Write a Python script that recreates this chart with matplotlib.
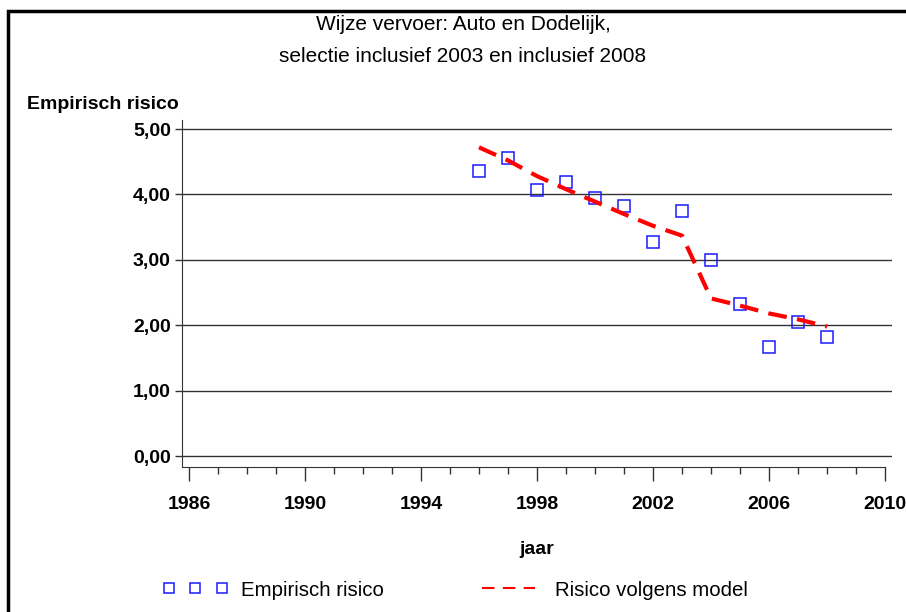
import matplotlib
matplotlib.use("Agg")
import matplotlib.pyplot as plt
from matplotlib.patches import Rectangle
from matplotlib.ticker import FuncFormatter, MultipleLocator

plt.rcParams['font.family'] = ['Liberation Sans', 'DejaVu Sans']

years = [1996, 1997, 1998, 1999, 2000, 2001, 2002, 2003, 2004, 2005, 2006, 2007, 2008]
empirisch = [4.36, 4.56, 4.06, 4.19, 3.95, 3.82, 3.28, 3.75, 3.00, 2.32, 1.66, 2.05, 1.82]
model = [4.72, 4.52, 4.28, 4.08, 3.89, 3.70, 3.52, 3.37, 2.41, 2.30, 2.18, 2.09, 1.98]
yticks = [0, 1, 2, 3, 4, 5]
xticks = [1986, 1990, 1994, 1998, 2002, 2006, 2010]

fig = plt.figure(figsize=(9.06, 6.12), dpi=100)
ax = fig.add_axes([182 / 906, 1 - 467 / 612, 710 / 906, 347 / 612])

# frame around the whole picture
fig.patches.append(Rectangle((8 / 906, -0.1), 1.2, 1 - 11 / 612 + 0.1,
                             transform=fig.transFigure, fill=False,
                             edgecolor="black", linewidth=2.5))

ax.plot(years, empirisch, linestyle="none", marker="s", markersize=8,
        markerfacecolor="none", markeredgecolor="#1a1aff", markeredgewidth=1.1,
        label="Empirisch risico")
ax.plot(years, model, color="#ff0000", linestyle=(0, (4.5, 2.5)), linewidth=3,
        label="Risico volgens model")

ax.set_xlim(1985.76, 2010.24)
ax.set_ylim(-0.168, 5.138)
ax.set_xticks(xticks)
ax.xaxis.set_minor_locator(MultipleLocator(1))
ax.set_yticks(yticks)
ax.yaxis.set_major_formatter(FuncFormatter(lambda v, p: f"{v:.2f}".replace(".", ",")))
ax.grid(axis="y", color="#333333", linewidth=1)
ax.set_axisbelow(True)

for s in ["top", "right"]:
    ax.spines[s].set_visible(False)
ax.spines["bottom"].set_bounds(1985.76, 2010)
ax.spines["bottom"].set_color("#333333")
ax.spines["left"].set_color("#333333")

ax.tick_params(axis="x", which="major", length=10, width=1, pad=11,
               labelsize=14, color="#333333")
ax.tick_params(axis="x", which="minor", length=5, width=1, color="#333333")
ax.tick_params(axis="y", length=5, width=1, labelsize=14, pad=3, color="#333333")
for lab in ax.get_xticklabels() + ax.get_yticklabels():
    lab.set_fontweight("bold")

ax.set_xlabel("jaar", fontsize=14, fontweight="bold", labelpad=20)
ax.set_ylabel("Empirisch risico", fontsize=14, fontweight="bold", rotation=0,
              ha="left", va="center")
ax.yaxis.set_label_coords(-0.218, 1.046)

fig.text(463 / 906, 1 - 25 / 612, "Wijze vervoer: Auto en Dodelijk,",
         ha="center", va="center", fontsize=15)
fig.text(463 / 906, 1 - 56 / 612, "selectie inclusief 2003 en inclusief 2008",
         ha="center", va="center", fontsize=15)

leg = fig.legend(loc="center", bbox_to_anchor=(455 / 906, 1 - 590 / 612), ncol=2,
                 frameon=False, numpoints=3, handlelength=3.2, columnspacing=4.5,
                 fontsize=14.7, handletextpad=0.65)
leg.get_lines()[1].set_linewidth(1.5)
leg.get_lines()[1].set_dashes((6, 4))
leg.get_lines()[0].set_markersize(7)

fig.savefig("out.png", dpi=100)
